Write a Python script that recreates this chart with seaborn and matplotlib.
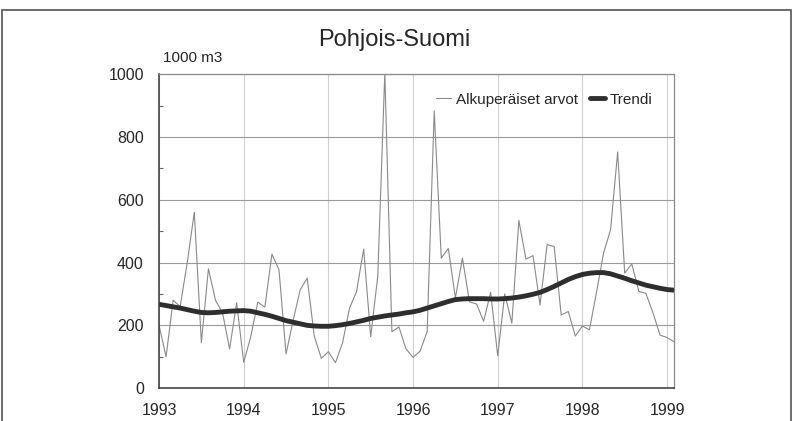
import numpy as np
import pandas as pd
import matplotlib
matplotlib.use("Agg")
import matplotlib.pyplot as plt
import seaborn as sns
from matplotlib.patches import Rectangle
from matplotlib.ticker import MultipleLocator

# Kuukausittaiset arvot, tammikuu 1993 - helmikuu 1999
alkuperaiset = [200, 100, 280, 260, 400, 560, 145, 380, 280, 240, 125, 272,
                82, 164, 274, 258, 427, 377, 109, 215, 313, 350, 166, 95,
                116, 81, 143, 255, 308, 443, 164, 356, 1005, 180, 195, 125,
                98, 118, 180, 883, 414, 445, 287, 414, 275, 268, 213, 305,
                103, 300, 207, 534, 411, 422, 265, 457, 451, 233, 244, 166,
                198, 186, 305, 430, 505, 752, 366, 396, 308, 302, 240, 169,
                161, 148]
trendi = [267, 263, 259, 255, 250, 245, 241, 240, 241, 243, 245, 246,
          247, 245, 240, 235, 229, 222, 215, 210, 205, 200, 198, 197,
          197, 199, 202, 206, 211, 216, 222, 226, 230, 233, 236, 240,
          243, 248, 255, 262, 269, 276, 282, 284, 285, 285, 285, 284,
          284, 285, 287, 290, 294, 299, 305, 314, 324, 335, 346, 355,
          362, 366, 368, 368, 364, 357, 350, 342, 335, 328, 323, 318,
          314, 312]
vuodet = [1993, 1994, 1995, 1996, 1997, 1998, 1999]

df = pd.DataFrame({
    "aika": 1993 + np.arange(len(alkuperaiset)) / 12,
    "Alkuperäiset arvot": alkuperaiset,
    "Trendi": trendi,
})

sns.set_style("white")
plt.rcParams["font.family"] = ["Liberation Sans Narrow", "Liberation Sans", "DejaVu Sans"]

fig = plt.figure(figsize=(7.94, 4.21), dpi=100)
ax = fig.add_axes([0.2003, 0.078, 0.6487, 0.746])

sns.lineplot(data=df, x="aika", y="Alkuperäiset arvot", ax=ax, color="#8a8a8a",
             linewidth=0.8, label="Alkuperäiset arvot")
sns.lineplot(data=df, x="aika", y="Trendi", ax=ax, color="#2e2e2e",
             linewidth=3.5, label="Trendi")

ax.set_xlim(1993, 1999 + 1 / 12)
ax.set_ylim(0, 1000)
ax.set_xticks(vuodet)
ax.set_xticklabels([str(v) for v in vuodet])
ax.yaxis.set_major_locator(MultipleLocator(200))
ax.yaxis.set_minor_locator(MultipleLocator(100))
ax.set_xlabel("")
ax.set_ylabel("")

ax.grid(True, axis="y", color="#9a9a9a", linewidth=0.8)
ax.grid(True, axis="x", color="#d0d0d0", linewidth=0.8)
ax.tick_params(axis="y", which="major", direction="out", length=6, width=1,
               color="#444444", labelsize=11.5, pad=5)
ax.tick_params(axis="y", which="minor", direction="in", length=3, width=0.8,
               color="#666666", left=True)
ax.tick_params(axis="x", which="major", direction="out", length=4, width=1,
               color="#444444", labelsize=11.5, pad=7)

for side in ["left", "bottom"]:
    ax.spines[side].set_color("#444444")
    ax.spines[side].set_linewidth(1.2)
for side in ["top", "right"]:
    ax.spines[side].set_color("#8a8a8a")
    ax.spines[side].set_linewidth(0.9)

ax.legend(loc="upper right", bbox_to_anchor=(0.985, 0.985), ncol=2, frameon=False,
          fontsize=11, handlelength=1.0, handletextpad=0.3, columnspacing=0.8)

fig.text(0.497, 0.905, "Pohjois-Suomi", ha="center", va="center", fontsize=17)
fig.text(0.205, 0.862, "1000 m3", ha="left", va="center", fontsize=11)

fig.patches.append(Rectangle((0.003, -0.02), 0.993, 0.996, transform=fig.transFigure,
                             fill=False, edgecolor="#555555", linewidth=1.2))

fig.savefig("out.png", dpi=100)
